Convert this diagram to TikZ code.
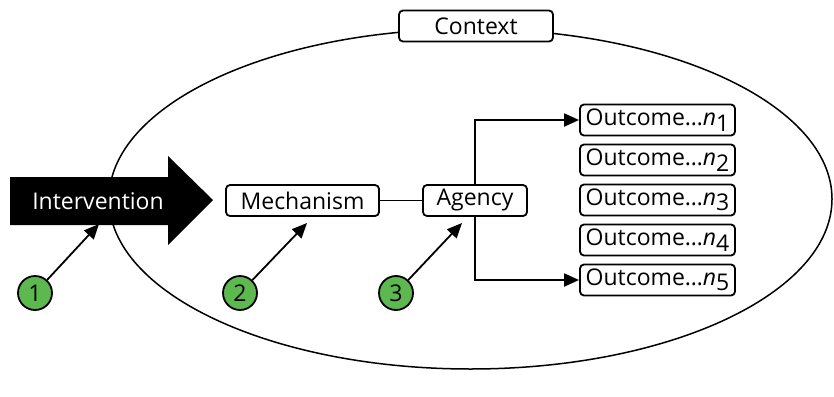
\documentclass[tikz,border=0pt]{standalone}
\usepackage{fontspec}
\setmainfont{Open Sans}
\usetikzlibrary{arrows.meta,shapes.arrows}
\definecolor{numgreen}{HTML}{5DB84F}
\tikzset{
  txt/.style={font=\fontsize{23}{26}\selectfont},
  box/.style={draw, line width=1.8pt, rounded corners=4pt, fill=white, inner sep=0pt, minimum height=31pt, txt},
  num/.style={circle, draw, line width=1.8pt, fill=numgreen, minimum size=34pt, inner sep=0pt, txt},
  conn/.style={line width=1.8pt},
  arr/.style={line width=1.8pt, -{Triangle[length=15pt,width=13pt]}},
}
\newcommand{\outc}[1]{Outcome…\textit{n}\raisebox{-0.45ex}{#1}}
\begin{document}
\begin{tikzpicture}[x=1pt,y=-1pt]
\useasboundingbox (0,0) rectangle (834,396);
% context ellipse
\draw[line width=1.5pt] (470.5,199) ellipse [x radius=361.5, y radius=170];
\node[box, minimum width=154pt] (ctx) at (476,26) {Context};
% intervention arrow
\fill (10,177) -- (168,177) -- (168,156) -- (213,200) -- (168,245) -- (168,225) -- (10,225) -- cycle;
\node[text=white, txt] (int) at (98,201) {Intervention};
% boxes
\node[box, minimum width=153pt] (mech) at (302.5,200.5) {Mechanism};
\node[box, minimum width=104pt] (ag) at (475,200.5) {Agency};
\foreach \i/\y in {1/120,2/160,3/200,4/240,5/280}{
  \node[box, minimum width=155pt] (o\i) at (657.5,\y) {\outc{\i}};
}
\draw[conn] (mech) -- (ag);
\draw[arr] (ag.north) |- (o1.west);
\draw[arr] (ag.south) |- (o5.west);
% numbers
\node[num] (n1) at (35,293) {1};
\node[num] (n2) at (240,293) {2};
\node[num] (n3) at (396,293) {3};
\coordinate (t1) at (99,224);
\coordinate (t2) at (307,223);
\coordinate (t3) at (462,223);
\draw[arr] (n1) -- (t1);
\draw[arr] (n2) -- (t2);
\draw[arr] (n3) -- (t3);
\end{tikzpicture}
\end{document}
